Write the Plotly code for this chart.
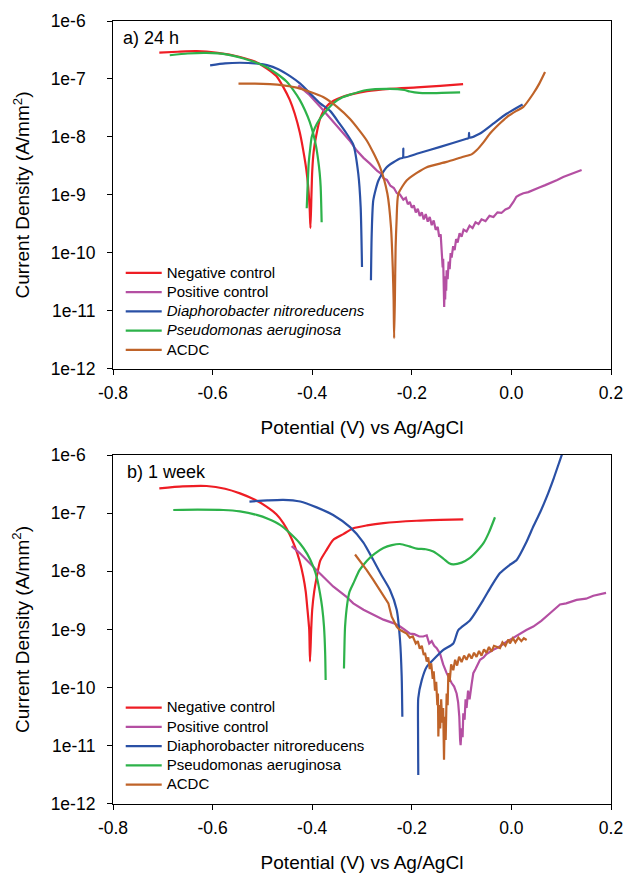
import plotly.graph_objects as go

FONT = "Arial, 'Liberation Sans', sans-serif"

# ---------------- DATA (potential V vs Ag/AgCl, log10 of current density A/mm^2) ----------------
# Panel a) 24 h
neg24_v = [-0.707, -0.67, -0.632, -0.59, -0.545, -0.515, -0.491, -0.472, -0.458, -0.445, -0.435, -0.425,
           -0.418, -0.412, -0.408, -0.405, -0.4035, -0.4015, -0.400, -0.397, -0.392, -0.384, -0.372, -0.358,
           -0.340, -0.324, -0.290, -0.244, -0.190, -0.143, -0.097]
neg24_log = [-6.545, -6.53, -6.52, -6.55, -6.62, -6.70, -6.82, -6.95, -7.14, -7.36, -7.60, -7.92,
             -8.23, -8.55, -8.86, -9.25, -9.57, -9.0, -8.6, -8.25, -7.98, -7.68, -7.48, -7.38,
             -7.31, -7.27, -7.21, -7.17, -7.145, -7.12, -7.09]

pos24_v = [-0.428, -0.405, -0.384, -0.364, -0.344, -0.325, -0.311, -0.297, -0.284, -0.270, -0.262, -0.257,
           -0.250, -0.243, -0.236, -0.230, -0.224, -0.217, -0.212, -0.208, -0.204, -0.200, -0.196, -0.192,
           -0.188, -0.184, -0.180, -0.176, -0.172, -0.168, -0.164, -0.160, -0.156, -0.152, -0.148, -0.145,
           -0.142, -0.140, -0.138, -0.137, -0.136, -0.135, -0.134, -0.133, -0.132, -0.131, -0.130, -0.128,
           -0.126, -0.124, -0.122, -0.120, -0.117, -0.114, -0.111, -0.108, -0.104, -0.100, -0.096, -0.090,
           -0.084, -0.078, -0.072, -0.066, -0.060, -0.052, -0.044, -0.036, -0.028, -0.020, -0.012, -0.004,
           0.004, 0.010, 0.016, 0.024, 0.034, 0.044, 0.056, 0.068, 0.080, 0.092, 0.104, 0.116, 0.128, 0.141]
pos24_log = [-7.11, -7.28, -7.48, -7.68, -7.88, -8.06, -8.23, -8.36, -8.46, -8.58, -8.63, -8.71,
             -8.74, -8.84, -8.88, -8.97, -8.99, -9.08, -9.05, -9.16, -9.12, -9.22, -9.18, -9.30,
             -9.24, -9.36, -9.30, -9.42, -9.33, -9.46, -9.38, -9.52, -9.44, -9.60, -9.55, -9.72,
             -9.68, -9.95, -10.25, -10.10, -10.60, -10.93, -10.55, -10.80, -10.40, -10.65, -10.30, -10.45,
             -10.15, -10.28, -10.00, -10.08, -9.88, -9.95, -9.76, -9.82, -9.66, -9.72, -9.60, -9.63,
             -9.53, -9.57, -9.47, -9.50, -9.42, -9.45, -9.36, -9.38, -9.30, -9.31, -9.25, -9.22,
             -9.12, -9.03, -9.00, -8.97, -8.95, -8.91, -8.87, -8.83, -8.79, -8.74, -8.69, -8.65, -8.61, -8.57]

dia24_v = [-0.605, -0.575, -0.545, -0.515, -0.491, -0.468, -0.4445, -0.424, -0.404, -0.384, -0.364, -0.345,
           -0.331, -0.3175, -0.3075, -0.3027, -0.300, None,
           -0.282, -0.2805, -0.2773, -0.267, -0.2505, -0.2237, -0.218, -0.217, -0.216, -0.190, -0.143,
           -0.090, -0.086, -0.085, -0.084, -0.063, -0.0364, -0.0096, 0.0225]
dia24_log = [-6.764, -6.73, -6.72, -6.73, -6.76, -6.83, -6.95, -7.08, -7.25, -7.42, -7.55, -7.77,
             -7.94, -8.13, -8.63, -9.21, -10.24, None,
             -10.47, -9.67, -9.09, -8.75, -8.52, -8.37, -8.36, -8.20, -8.35, -8.29, -8.17,
             -8.03, -8.02, -7.93, -8.01, -7.94, -7.77, -7.60, -7.44]

pse24_v = [-0.686, -0.650, -0.612, -0.570, -0.525, -0.495, -0.471, -0.452, -0.4375, -0.425, -0.4145, -0.405,
           -0.398, -0.392, -0.388, -0.385, -0.383, -0.381, None,
           -0.411, -0.409, -0.407, -0.404, -0.401, -0.395, -0.384, -0.370, -0.358, -0.340, -0.324,
           -0.2905, -0.244, -0.215, -0.204, -0.185, -0.170, -0.140, -0.103]
pse24_log = [-6.59, -6.56, -6.55, -6.58, -6.68, -6.78, -6.91, -7.04, -7.195, -7.36, -7.54, -7.74,
             -7.94, -8.17, -8.40, -8.62, -8.86, -9.47, None,
             -9.23, -8.80, -8.45, -8.20, -8.00, -7.85, -7.68, -7.53, -7.42, -7.32, -7.27,
             -7.19, -7.17, -7.19, -7.215, -7.24, -7.245, -7.24, -7.23]

acdc24_v = [-0.548, -0.515, -0.4847, -0.458, -0.431, -0.405, -0.378, -0.350, -0.324, -0.2905, -0.2638, -0.249,
            -0.2418, -0.2383, -0.2365, -0.2355, -0.234, -0.2325, -0.2306, -0.227, -0.2104, -0.190, -0.170,
            -0.130, -0.0966, -0.080, -0.070, -0.055, -0.043, -0.025, -0.0096, 0.010, 0.024, 0.044, 0.056, 0.0675]
acdc24_log = [-7.08, -7.08, -7.09, -7.11, -7.15, -7.22, -7.31, -7.48, -7.69, -8.06, -8.52, -8.98,
              -9.55, -10.24, -10.81, -11.47, -10.81, -9.90, -9.45, -8.98, -8.75, -8.62, -8.52,
              -8.43, -8.34, -8.30, -8.23, -8.08, -7.94, -7.78, -7.66, -7.55, -7.48, -7.25, -7.08, -6.88]

# Panel b) 1 week
neg1w_v = [-0.707, -0.66, -0.612, -0.575, -0.545, -0.515, -0.491, -0.472, -0.458, -0.445, -0.4345, -0.425,
           -0.418, -0.413, -0.410, -0.406, -0.4044, -0.402, -0.400, -0.396, -0.391, -0.384, -0.371, -0.358,
           -0.3375, -0.3175, -0.290, -0.257, -0.190, -0.143, -0.0966]
neg1w_log = [-6.573, -6.54, -6.533, -6.58, -6.66, -6.77, -6.89, -7.02, -7.17, -7.37, -7.58, -7.83,
             -8.09, -8.35, -8.61, -9.0, -9.55, -9.0, -8.66, -8.35, -8.10, -7.82, -7.63, -7.46,
             -7.36, -7.26, -7.21, -7.17, -7.13, -7.115, -7.105]

pos1w_v = [-0.4412, -0.4245, -0.391, -0.378, -0.358, -0.331, -0.3175, -0.297, -0.2773, -0.257, -0.237, -0.225,
           -0.215, -0.2036, -0.195, -0.185, -0.177, -0.170, -0.165, -0.160, -0.155, -0.150, -0.1434, -0.137,
           -0.130, -0.125, -0.120, -0.115, -0.110, -0.107, -0.1046, -0.103, -0.102, -0.100, -0.098, -0.0966,
           -0.094, -0.092, -0.090, -0.087, -0.084, -0.080, -0.0765, -0.072, -0.068, -0.063, -0.056, -0.050,
           -0.0364, -0.025, -0.0096, 0.004, 0.0173, 0.030, 0.044, 0.060, 0.0775, 0.0976, 0.110, 0.131,
           0.150, 0.1645, 0.190]
pos1w_log = [-7.565, -7.69, -7.98, -8.09, -8.26, -8.44, -8.55, -8.66, -8.75, -8.83, -8.89, -8.94,
             -9.00, -9.07, -9.08, -9.12, -9.12, -9.10, -9.24, -9.20, -9.28, -9.32, -9.41, -9.60,
             -9.75, -9.85, -9.92, -9.98, -10.10, -10.25, -10.50, -10.90, -10.99, -10.70, -10.85, -10.44,
             -10.55, -10.20, -10.35, -10.05, -10.20, -9.95, -9.75, -9.68, -9.60, -9.52, -9.48, -9.42,
             -9.35, -9.30, -9.21, -9.14, -9.07, -9.01, -8.95, -8.85, -8.72, -8.57, -8.55, -8.49,
             -8.47, -8.42, -8.37]

dia1w_v = [-0.526, -0.490, -0.458, -0.424, -0.391, -0.358, -0.324, -0.2975, -0.2773, -0.2605, -0.2438, -0.2303,
           -0.2237, -0.2203, -0.219, None,
           -0.187, -0.1875, -0.187, -0.180, -0.170, -0.157, -0.1367, -0.1167, -0.1066, -0.083, -0.0564,
           -0.040, -0.0229, -0.005, 0.0106, 0.030, 0.044, 0.058, 0.0709, 0.085, 0.0976, 0.104]
dia1w_log = [-6.80, -6.78, -6.77, -6.80, -6.90, -7.03, -7.24, -7.50, -7.805, -8.07, -8.32, -8.66,
             -9.18, -9.81, -10.50, None,
             -11.50, -10.67, -10.18, -9.87, -9.64, -9.52, -9.35, -9.24, -9.01, -8.84, -8.49,
             -8.25, -8.03, -7.90, -7.805, -7.50, -7.23, -6.98, -6.72, -6.40, -6.086, -5.93]

pse1w_v = [-0.679, -0.630, -0.5785, -0.545, -0.5115, -0.488, -0.4647, -0.445, -0.4245, -0.410, -0.3978, -0.390,
           -0.3843, -0.380, -0.3763, -0.374, -0.373, None,
           -0.3362, -0.335, -0.334, -0.3295, -0.325, -0.3175, -0.305, -0.2905, -0.275, -0.257, -0.240,
           -0.2237, -0.205, -0.190, -0.172, -0.1568, -0.1367, -0.125, -0.1167, -0.100, -0.0831, -0.070,
           -0.0564, -0.045, -0.033]
pse1w_log = [-6.945, -6.94, -6.945, -6.97, -7.03, -7.10, -7.20, -7.34, -7.52, -7.70, -7.92, -8.13,
             -8.38, -8.62, -8.95, -9.40, -9.87, None,
             -9.67, -9.20, -8.95, -8.55, -8.35, -8.21, -7.98, -7.82, -7.70, -7.60, -7.55,
             -7.53, -7.57, -7.61, -7.62, -7.66, -7.78, -7.86, -7.88, -7.85, -7.77, -7.66,
             -7.52, -7.33, -7.07]

acdc1w_v = [-0.314, -0.302, -0.2905, -0.277, -0.2637, -0.255, -0.247, -0.2404, -0.236, -0.2303, -0.225, -0.220,
            -0.2103, -0.204, -0.198, -0.192, -0.188, -0.184, -0.180, -0.176, -0.1735, -0.170, -0.167, -0.164,
            -0.161, -0.158, -0.156, -0.1534, -0.151, -0.1487, -0.1475, -0.1467, -0.145, -0.143, -0.141, -0.139,
            -0.137, -0.1353, -0.134, -0.132, -0.130, -0.128, -0.1266, -0.124, -0.121, -0.1167, -0.113, -0.109,
            -0.105, -0.100, -0.095, -0.090, -0.085, -0.080, -0.075, -0.070, -0.065, -0.060, -0.055, -0.050,
            -0.045, -0.040, -0.035, -0.0229, -0.018, -0.012, -0.006, -0.003, 0.003, 0.008, 0.014, 0.020,
            0.025, 0.0307]
acdc1w_log = [-7.71, -7.84, -7.98, -8.15, -8.32, -8.45, -8.55, -8.78, -8.86, -8.95, -9.00, -9.02,
              -9.07, -9.14, -9.12, -9.24, -9.20, -9.33, -9.28, -9.44, -9.40, -9.55, -9.48, -9.68,
              -9.58, -9.85, -9.72, -10.05, -9.90, -10.30, -10.10, -10.84, -10.30, -10.70, -10.20, -10.60,
              -10.35, -11.24, -10.50, -10.90, -10.10, -10.30, -9.75, -9.90, -9.60, -9.70, -9.52, -9.62,
              -9.47, -9.56, -9.45, -9.52, -9.42, -9.50, -9.40, -9.47, -9.37, -9.45, -9.34, -9.40,
              -9.30, -9.38, -9.28, -9.32, -9.22, -9.28, -9.17, -9.24, -9.15, -9.22, -9.14, -9.20,
              -9.15, -9.18]

x_tick_vals = [-0.8, -0.6, -0.4, -0.2, 0.0, 0.2]
x_tick_text = ["-0.8", "-0.6", "-0.4", "-0.2", "0.0", "0.2"]
y_tick_vals = [1e-12, 1e-11, 1e-10, 1e-9, 1e-8, 1e-7, 1e-6]
# short labels padded so that all labels share a common left edge, as in the original
y_tick_text = ["1e-12", "1e-11", "1e-10", "1e-9\u00a0\u00a0", "1e-8\u00a0\u00a0", "1e-7\u00a0\u00a0",
               "1e-6\u00a0\u00a0"]

names_a = ["Negative control", "Positive control", "<i>Diaphorobacter nitroreducens</i>",
           "<i>Pseudomonas aeruginosa</i>", "ACDC"]
names_b = ["Negative control", "Positive control", "Diaphorobacter nitroreducens",
           "Pseudomonas aeruginosa", "ACDC"]
colors = ["#EE1D24", "#B44FA2", "#2A50A5", "#2DB24A", "#BF6329"]


def cur(logs):
    return [None if v is None else 10 ** v for v in logs]


fig = go.Figure()

panel_a = [(neg24_v, neg24_log, "spline"), (pos24_v, pos24_log, "linear"), (dia24_v, dia24_log, "spline"),
           (pse24_v, pse24_log, "spline"), (acdc24_v, acdc24_log, "spline")]
panel_b = [(neg1w_v, neg1w_log, "spline"), (pos1w_v, pos1w_log, "linear"), (dia1w_v, dia1w_log, "spline"),
           (pse1w_v, pse1w_log, "spline"), (acdc1w_v, acdc1w_log, "linear")]

for i, (v, lg, shape) in enumerate(panel_a):
    fig.add_trace(go.Scatter(
        x=v, y=cur(lg), mode="lines", connectgaps=False,
        name="<span style='font-size:15px'>" + names_a[i] + "</span>",
        line=dict(color=colors[i], width=2.2, shape=shape, smoothing=0.6),
        xaxis="x", yaxis="y", legend="legend"))

for i, (v, lg, shape) in enumerate(panel_b):
    fig.add_trace(go.Scatter(
        x=v, y=cur(lg), mode="lines", connectgaps=False,
        name="<span style='font-size:15px'>" + names_b[i] + "</span>",
        line=dict(color=colors[i], width=2.2, shape=shape, smoothing=0.6),
        xaxis="x2", yaxis="y2", legend="legend2"))

tick_font = dict(family=FONT, size=17.5, color="black")
title_font = dict(family=FONT, size=19, color="black")


def xax(anchor):
    return dict(anchor=anchor, domain=[0, 1], range=[-0.8, 0.2], tickvals=x_tick_vals, ticktext=x_tick_text,
                ticks="outside", ticklen=5, tickwidth=1.2, tickcolor="black", showline=True, mirror=True,
                linecolor="black", linewidth=1.2, showgrid=False, zeroline=False, tickfont=tick_font,
                automargin=False, ticklabelstandoff=3,
                title=dict(text="Potential (V) vs Ag/AgCl", font=title_font, standoff=18))


def yax(anchor, dom):
    return dict(anchor=anchor, domain=dom, type="log", range=[-12, -6], tickvals=y_tick_vals,
                ticktext=y_tick_text, ticks="outside", ticklen=5, tickwidth=1.2, tickcolor="black",
                showline=True, mirror=True, linecolor="black", linewidth=1.2, showgrid=False,
                zeroline=False, tickfont=tick_font, automargin=False, ticklabelstandoff=8,
                title=dict(text="Current Density (A/mm<sup>2</sup>)", font=title_font, standoff=15))


legend_common = dict(font=dict(family=FONT, size=12.5, color="black"), bgcolor="rgba(0,0,0,0)",
                     borderwidth=0, xanchor="left", yanchor="top", tracegroupgap=0, itemwidth=36)

fig.update_layout(
    width=625, height=874,
    margin=dict(l=113, r=14, t=21, b=70, autoexpand=False),
    paper_bgcolor="white", plot_bgcolor="white",
    font=dict(family=FONT, color="black"),
    xaxis=xax("y"), yaxis=yax("x", [0.5556, 1.0]),
    xaxis2=xax("y2"), yaxis2=yax("x2", [0.0, 0.4457]),
    legend=dict(x=0.0155, y=0.6971, **legend_common),
    legend2=dict(x=0.0155, y=0.1418, **legend_common),
    annotations=[
        dict(text="a) 24 h", x=0.016, y=0.9783, xref="paper", yref="paper", xanchor="left",
             yanchor="middle", showarrow=False, font=dict(family=FONT, size=18, color="black")),
        dict(text="b) 1 week", x=0.024, y=0.4236, xref="paper", yref="paper", xanchor="left",
             yanchor="middle", showarrow=False, font=dict(family=FONT, size=18, color="black")),
    ],
)

fig.write_html("out.html", config={"displayModeBar": False})
